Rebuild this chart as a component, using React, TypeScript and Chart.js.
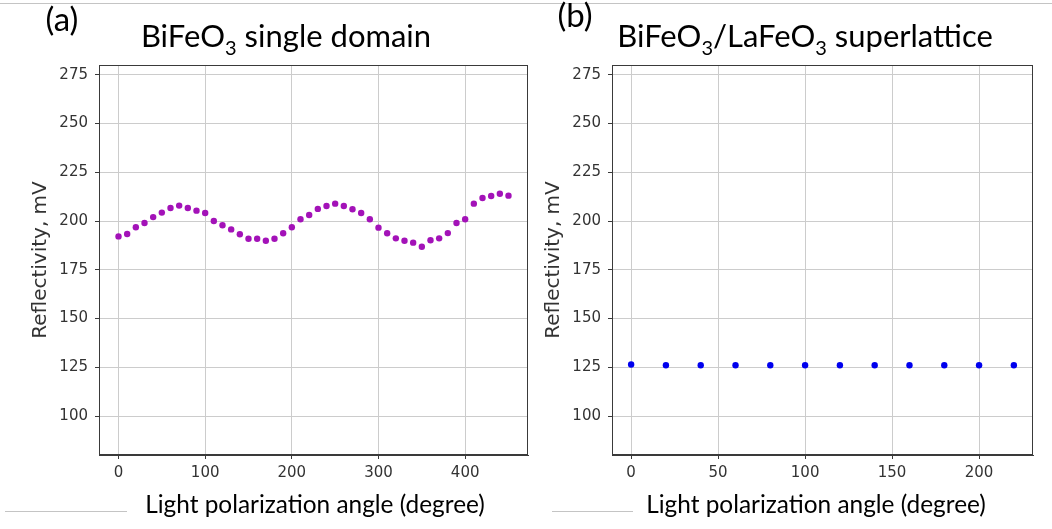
import React, { useEffect, useRef } from "react";
import { Chart, registerables } from "chart.js";

Chart.register(...registerables);

// ---------- data ----------
const anglesA = [
  0, 10, 20, 30, 40, 50, 60, 70, 80, 90, 100, 110, 120, 130, 140, 150, 160, 170, 180, 190,
  200, 210, 220, 230, 240, 250, 260, 270, 280, 290, 300, 310, 320, 330, 340, 350, 360, 370,
  380, 390, 400, 410, 420, 430, 440, 450,
];
const reflectA = [
  192.1, 193.3, 196.8, 199.0, 202.0, 204.3, 206.7, 207.9, 206.7, 205.3, 204.1, 200.0, 197.8,
  195.7, 193.2, 190.9, 190.9, 189.9, 190.9, 193.7, 196.8, 200.9, 203.1, 206.2, 207.7, 208.9,
  207.7, 206.0, 204.1, 200.9, 196.6, 193.7, 191.1, 189.9, 188.9, 186.8, 190.1, 191.1, 193.8,
  199.0, 200.9, 208.9, 211.8, 212.8, 214.0, 213.0,
];
const anglesB = [0, 20, 40, 60, 80, 100, 120, 140, 160, 180, 200, 220];
const reflectB = [126.4, 126.0, 126.0, 126.0, 126.0, 126.0, 126.0, 126.0, 126.0, 126.0, 126.0, 126.0];

const yTicks = [100, 125, 150, 175, 200, 225, 250, 275];
const xTicksA = [0, 100, 200, 300, 400];
const xTicksB = [0, 50, 100, 150, 200];

const panelLabels = ["(a)", "(b)"];
const titleA = [
  { t: "BiFeO" },
  { t: "3", sub: true },
  { t: " single domain" },
];
const titleB = [
  { t: "BiFeO" },
  { t: "3", sub: true },
  { t: "/LaFeO" },
  { t: "3", sub: true },
  { t: " superlattice" },
];
const xAxisTitle = "Light polarization angle (degree)";
const yAxisTitle = "Reflectivity, mV";

const CAL = "Lato, 'Open Sans', sans-serif";
const MPL = "'DejaVu Sans', sans-serif";

type TitlePart = { t: string; sub?: boolean };

function makeDeco(o: {
  offsetX: number;
  label: string;
  labelX: number;
  labelY: number;
  title: TitlePart[];
  titleCX: number;
  titleBase: number;
  xlabCX: number;
  xlabY: number;
  lineX0: number;
  lineX1: number;
}) {
  return {
    id: "deco",
    afterDraw(chart: any) {
      const ctx = chart.ctx as CanvasRenderingContext2D;
      const ca = chart.chartArea;
      const ox = o.offsetX;
      ctx.save();
      // plot box
      ctx.strokeStyle = "#3a3a3a";
      ctx.lineWidth = 1;
      ctx.strokeRect(Math.round(ca.left) + 0.5, Math.round(ca.top) + 0.5, Math.round(ca.right - ca.left) - 1, Math.round(ca.bottom - ca.top) - 1);
      // top separator line
      ctx.strokeStyle = "#c4c4c4";
      ctx.beginPath();
      ctx.moveTo(0, 3.5);
      ctx.lineTo(chart.width, 3.5);
      ctx.stroke();
      // small gray line near x-label
      ctx.beginPath();
      ctx.moveTo(o.lineX0 - ox, 511.5);
      ctx.lineTo(o.lineX1 - ox, 511.5);
      ctx.stroke();
      // panel label
      ctx.fillStyle = "#000";
      ctx.textBaseline = "middle";
      ctx.textAlign = "center";
      ctx.font = `33px ${CAL}`;
      ctx.fillText(o.label, o.labelX - ox, o.labelY);
      // title with subscripts
      const mainFont = `31px ${CAL}`;
      const subFont = `20px ${CAL}`;
      ctx.textAlign = "left";
      ctx.textBaseline = "alphabetic";
      let total = 0;
      for (const p of o.title) {
        ctx.font = p.sub ? subFont : mainFont;
        total += ctx.measureText(p.t).width;
      }
      let x = o.titleCX - ox - total / 2;
      for (const p of o.title) {
        ctx.font = p.sub ? subFont : mainFont;
        ctx.fillText(p.t, x, o.titleBase + (p.sub ? 8 : 0));
        x += ctx.measureText(p.t).width;
      }
      // x axis label
      ctx.font = `24.4px ${CAL}`;
      ctx.textAlign = "center";
      ctx.textBaseline = "middle";
      ctx.fillText(xAxisTitle, o.xlabCX - ox, o.xlabY);
      ctx.restore();
    },
  };
}

function makeConfig(p: {
  xs: number[];
  ys: number[];
  color: string;
  xmin: number;
  xmax: number;
  xTicks: number[];
  yAxisWidth: number;
  padRight: number;
  yTitlePad: number;
  deco: any;
}) {
  const tickFont = { family: MPL, size: 15 };
  return {
    type: "scatter" as const,
    data: {
      datasets: [
        {
          data: p.xs.map((x, i) => ({ x, y: p.ys[i] })),
          pointRadius: 3.2,
          pointBackgroundColor: p.color,
          pointBorderWidth: 0,
          pointBorderColor: p.color,
          showLine: false,
        },
      ],
    },
    options: {
      responsive: false,
      animation: false as const,
      layout: { padding: { left: 0, top: 65, right: p.padRight, bottom: 44 } },
      plugins: {
        legend: { display: false },
        tooltip: { enabled: false },
        title: { display: false },
      },
      scales: {
        x: {
          type: "linear" as const,
          min: p.xmin,
          max: p.xmax,
          afterBuildTicks: (s: any) => {
            s.ticks = p.xTicks.map((v) => ({ value: v }));
          },
          afterFit: (s: any) => {
            s.height = 30;
          },
          grid: { color: "#cccccc", lineWidth: 1, tickLength: 4, tickColor: "#3a3a3a", drawTicks: true },
          border: { display: true, color: "#3a3a3a" },
          ticks: { font: tickFont, color: "#333", padding: 5, maxRotation: 0, autoSkip: false },
        },
        y: {
          type: "linear" as const,
          min: 80,
          max: 280,
          afterBuildTicks: (s: any) => {
            s.ticks = yTicks.map((v) => ({ value: v }));
          },
          afterFit: (s: any) => {
            s.width = p.yAxisWidth;
          },
          grid: { color: "#cccccc", lineWidth: 1, tickLength: 4, tickColor: "#3a3a3a", drawTicks: true },
          border: { display: true, color: "#3a3a3a" },
          ticks: { font: tickFont, color: "#333", padding: 7, autoSkip: false },
          title: {
            display: true,
            text: yAxisTitle,
            font: { family: MPL, size: 20 },
            color: "#333",
            padding: { top: p.yTitlePad, bottom: 0 },
          },
        },
      },
    },
    plugins: [p.deco],
  };
}

function ChartCanvas({ left, width, config }: { left: number; width: number; config: any }) {
  const ref = useRef<HTMLCanvasElement | null>(null);
  useEffect(() => {
    if (!ref.current) return;
    const chart = new Chart(ref.current, config);
    return () => chart.destroy();
  }, []);
  return (
    <canvas
      ref={ref}
      width={width}
      height={529}
      style={{ position: "absolute", left, top: 0, width, height: 529, display: "block" }}
    />
  );
}

export default function App() {
  const cfgA = makeConfig({
    xs: anglesA,
    ys: reflectA,
    color: "#a312b8",
    xmin: -22.5,
    xmax: 472.5,
    xTicks: xTicksA,
    yAxisWidth: 99,
    padRight: 12,
    yTitlePad: 29,
    deco: makeDeco({
      offsetX: 0,
      label: panelLabels[0],
      labelX: 62,
      labelY: 20,
      title: titleA,
      titleCX: 286,
      titleBase: 47,
      xlabCX: 315,
      xlabY: 505,
      lineX0: 5,
      lineX1: 127,
    }),
  });
  const cfgB = makeConfig({
    xs: anglesB,
    ys: reflectB,
    color: "#0000ee",
    xmin: -11,
    xmax: 231,
    xTicks: xTicksB,
    yAxisWidth: 72,
    padRight: 19,
    yTitlePad: 2,
    deco: makeDeco({
      offsetX: 540,
      label: panelLabels[1],
      labelX: 575,
      labelY: 16,
      title: titleB,
      titleCX: 805,
      titleBase: 47,
      xlabCX: 816,
      xlabY: 505,
      lineX0: 552,
      lineX1: 633,
    }),
  });
  return (
    <div style={{ position: "absolute", left: 0, top: 0, width: 1052, height: 529, background: "#fff", overflow: "hidden" }}>
      <ChartCanvas left={0} width={540} config={cfgA} />
      <ChartCanvas left={540} width={512} config={cfgB} />
    </div>
  );
}
